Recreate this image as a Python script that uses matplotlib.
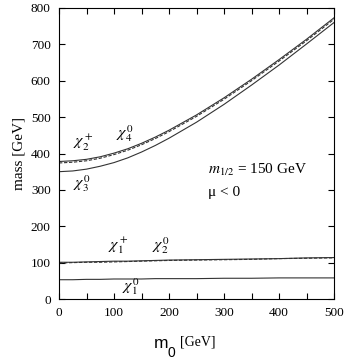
import numpy as np
import matplotlib
matplotlib.use("Agg")
import matplotlib.pyplot as plt
from matplotlib.ticker import MultipleLocator

# m0 grid [GeV] and masses [GeV]
m0 = [0, 25, 50, 75, 100, 125, 150, 175, 200, 250, 300, 350, 400, 450, 500]
chi2p = [378, 380, 384, 391, 401, 413, 428, 445, 464, 506, 553, 604, 658, 714, 773]   # solid
chi40 = [374, 376, 380, 387, 397, 409, 424, 441, 460, 502, 549, 600, 654, 710, 769]   # dashed
chi30 = [350, 352, 357, 365, 375, 388, 404, 422, 442, 486, 535, 588, 643, 701, 760]   # solid
chi1p = [101, 101, 102, 103, 104, 104, 105, 106, 107, 108, 109, 110, 111, 113, 114]   # solid
chi20 = [99, 100, 101, 101, 102, 103, 104, 105, 106, 107, 108, 109, 111, 112, 113]    # dashed
chi10 = [53, 53, 54, 54, 55, 55, 55, 56, 56, 56, 57, 57, 58, 58, 58]                # solid

labels = [(r'$\chi_2^+$', 44, 428), (r'$\chi_4^0$', 120, 456),
          (r'$\chi_3^0$', 41, 318), (r'$\chi_1^+$', 108, 148),
          (r'$\chi_2^0$', 185, 148), (r'$\chi_1^0$', 131, 34)]

plt.rcParams['mathtext.fontset'] = 'stix'
plt.rcParams['font.family'] = ['Liberation Serif', 'DejaVu Serif']

fig = plt.figure(figsize=(3.46, 3.64), dpi=100)
ax = fig.add_axes([59/346, 1-299/364, 275/346, 291/364])

lc = '#333333'
ax.plot(m0, chi2p, color=lc, lw=0.8)
ax.plot(m0, chi40, color=lc, lw=0.8, ls=(0, (3, 1.5)))
ax.plot(m0, chi30, color=lc, lw=0.8)
ax.plot(m0, chi1p, color=lc, lw=0.8)
ax.plot(m0, chi20, color=lc, lw=0.8, ls=(0, (3, 1.5)))
ax.plot(m0, chi10, color=lc, lw=0.8)

for s, x, y in labels:
    ax.text(x, y, s, fontsize=11.5, ha='center', va='center')

ax.text(271, 354, r'$m_{1/2}$ = 150 GeV', fontsize=11, va='center')
ax.text(271, 294, 'μ < 0', fontsize=11, va='center')

ax.set_xlim(0, 500)
ax.set_ylim(0, 800)
ax.xaxis.set_major_locator(MultipleLocator(100))
ax.xaxis.set_minor_locator(MultipleLocator(50))
ax.yaxis.set_major_locator(MultipleLocator(100))
ax.tick_params(which='both', direction='in', top=True, right=True,
               length=4, width=0.8, labelsize=9.5, pad=6)
for sp in ax.spines.values():
    sp.set_linewidth(0.8)

ax.set_ylabel('mass [GeV]', fontsize=11, labelpad=4)

# x label: sans "m" with subscript 0, serif "[GeV]"
fig.text(154/346, 1-348/364, 'm', fontsize=12.5, family='Liberation Sans',
         va='baseline')
fig.text(168/346, 1-357/364, '0', fontsize=10, family='Liberation Sans',
         va='baseline')
fig.text(180/346, 1-346/364, '[GeV]', fontsize=10, va='baseline')

fig.savefig('out.png', dpi=100)
